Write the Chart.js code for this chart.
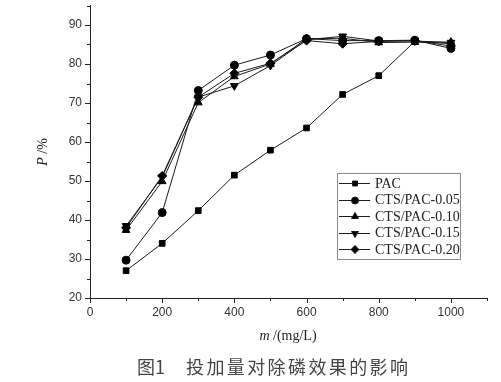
<!DOCTYPE html>
<html><head><meta charset="utf-8">
<script src="https://cdn.jsdelivr.net/npm/chart.js@4/dist/chart.umd.min.js"></script>
<style>html,body{margin:0;padding:0;background:#fff;}#wrap{width:501px;height:382px;}</style>
</head><body><div id="wrap"><canvas id="c" width="501" height="382"></canvas></div>
<script>
const doses = [100, 200, 300, 400, 500, 600, 700, 800, 900, 1000];
const pac   = [27.0, 34.0, 42.4, 51.5, 57.9, 63.6, 72.2, 77.0, 85.8, 85.2];
const cts05 = [29.7, 41.9, 73.2, 79.7, 82.3, 86.5, 86.0, 86.0, 86.1, 84.0];
const cts10 = [37.4, 49.9, 70.1, 76.8, 80.0, 86.5, 86.6, 85.5, 85.6, 85.6];
const cts15 = [38.5, 51.0, 71.5, 74.4, 79.6, 86.2, 87.1, 85.9, 85.9, 85.5];
const cts20 = [38.0, 51.3, 71.5, 77.6, 80.2, 86.0, 85.2, 85.8, 86.0, 84.6];
const seriesNames = ['PAC', 'CTS/PAC-0.05', 'CTS/PAC-0.10', 'CTS/PAC-0.15', 'CTS/PAC-0.20'];
const seriesValues = [pac, cts05, cts10, cts15, cts20];
const xTickValues = [0, 200, 400, 600, 800, 1000];
const yTickValues = [20, 30, 40, 50, 60, 70, 80, 90];
const xTitleItalic = 'm', xTitleRest = ' /(mg/L)';
const yTitleItalic = 'P', yTitleRest = ' /%';
const captionNum = '图1', captionText = '投加量对除磷效果的影响';

const markerStyles = [
  {pointStyle:'rect', rotation:0, radius:4},
  {pointStyle:'circle', rotation:0, radius:4},
  {pointStyle:'triangle', rotation:0, radius:4.5},
  {pointStyle:'triangle', rotation:180, radius:4.5},
  {pointStyle:'rectRot', rotation:0, radius:4.5}
];

const datasets = seriesNames.map((name, i) => ({
  label: name,
  data: doses.map((d, j) => ({x: d, y: seriesValues[i][j]})),
  borderColor: '#1a1a1a',
  borderWidth: 1,
  backgroundColor: '#000',
  pointBackgroundColor: '#000',
  pointBorderColor: '#000',
  pointBorderWidth: 1,
  pointStyle: markerStyles[i].pointStyle,
  pointRotation: markerStyles[i].rotation,
  pointRadius: markerStyles[i].radius,
  tension: 0,
  fill: false
}));

const extras = {
  id: 'extras',
  afterDraw(chart) {
    const ctx = chart.ctx, xs = chart.scales.x, ys = chart.scales.y;
    ctx.save();
    ctx.strokeStyle = '#222';
    ctx.lineWidth = 1;
    for (let v = 0; v <= 1100; v += 100) {
      const px = Math.round(xs.getPixelForValue(v)) + 0.5;
      const len = (v % 200 === 0) ? 5 : 3;
      ctx.beginPath(); ctx.moveTo(px, xs.top); ctx.lineTo(px, xs.top + len); ctx.stroke();
    }
    for (let v = 20; v <= 95; v += 5) {
      const py = Math.round(ys.getPixelForValue(v)) + 0.5;
      const len = (v % 10 === 0) ? 5 : 3;
      ctx.beginPath(); ctx.moveTo(ys.right, py); ctx.lineTo(ys.right - len, py); ctx.stroke();
    }
    ctx.beginPath(); ctx.moveTo(ys.right + 0.5, xs.top); ctx.lineTo(ys.right + 0.5, xs.top + 4); ctx.stroke();

    // Legend
    const lx = 337, ly = 173, lw = 123, lh = 86;
    ctx.strokeStyle = '#8a8a8a';
    ctx.strokeRect(lx + 0.5, ly + 0.5, lw, lh);
    ctx.font = '14px "Liberation Serif", serif';
    ctx.textBaseline = 'middle';
    ctx.textAlign = 'left';
    chart.data.datasets.forEach((ds, i) => {
      const y = ly + 10 + i * 16.6;
      ctx.strokeStyle = '#1a1a1a';
      ctx.beginPath(); ctx.moveTo(lx + 2, Math.round(y) + 0.5); ctx.lineTo(lx + 33, Math.round(y) + 0.5); ctx.stroke();
      ctx.fillStyle = '#000';
      Chart.helpers.drawPoint(ctx, {pointStyle: ds.pointStyle, rotation: ds.pointRotation, radius: ds.pointRadius - 0.5, borderWidth: 1}, lx + 18, Math.round(y) + 0.5);
      ctx.fillStyle = '#222';
      ctx.fillText(ds.label, lx + 38, y + 1);
    });

    // x axis title
    ctx.fillStyle = '#222';
    ctx.textBaseline = 'middle';
    ctx.font = 'italic 14px "Liberation Serif", serif';
    const wi = ctx.measureText(xTitleItalic).width;
    ctx.font = '14px "Liberation Serif", serif';
    const wr = ctx.measureText(xTitleRest).width;
    let sx = 288 - (wi + wr) / 2;
    ctx.font = 'italic 14px "Liberation Serif", serif';
    ctx.fillText(xTitleItalic, sx, 336);
    ctx.font = '14px "Liberation Serif", serif';
    ctx.fillText(xTitleRest, sx + wi, 336);

    // y axis title
    ctx.save();
    ctx.translate(43, 152);
    ctx.rotate(-Math.PI / 2);
    ctx.font = 'italic 14px "Liberation Serif", serif';
    const ywi = ctx.measureText(yTitleItalic).width;
    ctx.font = '14px "Liberation Serif", serif';
    const ywr = ctx.measureText(yTitleRest).width;
    sx = -(ywi + ywr) / 2;
    ctx.font = 'italic 14px "Liberation Serif", serif';
    ctx.fillText(yTitleItalic, sx, 0);
    ctx.font = '14px "Liberation Serif", serif';
    ctx.fillText(yTitleRest, sx + ywi, 0);
    ctx.restore();

    // caption
    ctx.fillStyle = '#444';
    ctx.font = '18px "Noto Sans CJK SC", sans-serif';
    ctx.textBaseline = 'middle';
    ctx.fillText(captionNum, 137, 367);
    ctx.letterSpacing = '2.4px';
    ctx.fillText(captionText, 186, 367);
    ctx.letterSpacing = '0px';
    ctx.restore();
  }
};

new Chart(document.getElementById('c'), {
  type: 'line',
  data: { datasets },
  options: {
    responsive: false,
    devicePixelRatio: 1,
    animation: false,
    layout: { padding: { left: 0, right: 14, top: 3, bottom: 0 } },
    plugins: { legend: { display: false }, tooltip: { enabled: false } },
    scales: {
      x: {
        type: 'linear', min: 0, max: 1100,
        grid: { display: false, drawTicks: false },
        border: { display: true, color: '#222', width: 1 },
        ticks: {
          stepSize: 100, padding: 7, color: '#333', maxRotation: 0, autoSkip: false,
          font: { family: '"Liberation Sans", Arial, sans-serif', size: 12 },
          callback: v => xTickValues.includes(v) ? String(v) : ''
        },
        afterFit: s => { s.height = 84; s.paddingLeft = 0; s.paddingRight = 0; }
      },
      y: {
        type: 'linear', min: 20, max: 95,
        grid: { display: false, drawTicks: false },
        border: { display: true, color: '#222', width: 1 },
        ticks: {
          stepSize: 5, padding: 8, color: '#333', autoSkip: false,
          font: { family: '"Liberation Sans", Arial, sans-serif', size: 12 },
          callback: v => yTickValues.includes(v) ? String(v) : ''
        },
        afterFit: s => { s.width = 90; s.paddingTop = 0; s.paddingBottom = 0; }
      }
    }
  },
  plugins: [extras]
});
</script>
</body></html>
